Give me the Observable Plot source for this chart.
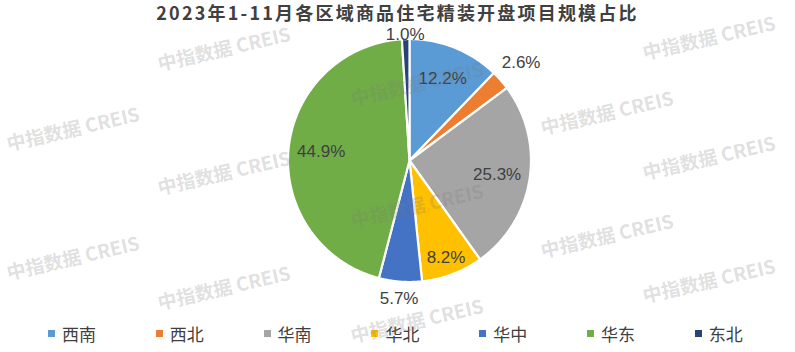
<!DOCTYPE html>
<html><head><meta charset="utf-8">
<script src="https://cdn.jsdelivr.net/npm/d3@7"></script>
<script src="https://cdn.jsdelivr.net/npm/@observablehq/plot@0.6"></script>
<style>
body{margin:0;background:#fff;}
#wrap{position:relative;width:795px;height:352px;overflow:hidden;font-family:"Noto Sans CJK SC",sans-serif;background:#fff;}
#title{position:absolute;left:0;top:0;width:795px;height:24px;text-align:center;font-weight:700;font-size:18px;letter-spacing:2.2px;line-height:25px;color:#404040;}
#chart{position:absolute;left:0;top:24px;}
#legend{position:absolute;left:48px;top:320px;height:26px;display:flex;}
.item{width:107.8px;display:flex;align-items:center;font-size:17px;color:#404040;white-space:nowrap;}
.sw{width:7px;height:7px;margin-right:7px;flex:none;}
.wm{position:absolute;white-space:nowrap;font-weight:700;font-size:19px;line-height:20px;color:rgba(120,120,120,0.24);transform:rotate(-13deg);transform-origin:0 100%;pointer-events:none;}
</style></head>
<body><div id="wrap"><div id="title"></div><div id="chart"></div><div id="legend"></div></div>
<script>
// ---- data ----
const regions = ["西南","西北","华南","华北","华中","华东","东北"];
const shares = [12.2, 2.6, 25.3, 8.2, 5.7, 44.9, 1.0];
const labels = ["12.2%","2.6%","25.3%","8.2%","5.7%","44.9%","1.0%"];
const titleText = "2023年1-11月各区域商品住宅精装开盘项目规模占比";
const watermarkText = "中指数据 CREIS";

// ---- style ----
const palette = ["#5B9BD5","#ED7D31","#A5A5A5","#FFC000","#4472C4","#70AD47","#264478"];
const W = 795, H = 296, cx = 409, cy = 136, R = 121.5;
const wmAnchors = [[9,153],[9,282],[160,73],[160,197],[160,312],[353,108],[353,230],[353,345],[543,137],[543,260],[645,62],[645,182],[645,305]];

document.getElementById("title").textContent = titleText;

// ---- pie geometry from data ----
const total = d3.sum(shares);
let acc = 0;
const slices = regions.map((r, i) => {
  const a0 = acc / total * 2 * Math.PI;
  acc += shares[i];
  const a1 = acc / total * 2 * Math.PI;
  return {region: r, share: shares[i], label: labels[i], a0, a1, mid: (a0 + a1) / 2};
});
const pts = [];
for (const s of slices) {
  pts.push({region: s.region, x: 0, y: 0});
  const n = Math.max(2, Math.ceil((s.a1 - s.a0) / (Math.PI / 360)));
  for (let k = 0; k <= n; k++) {
    const a = s.a0 + (s.a1 - s.a0) * k / n;
    pts.push({region: s.region, x: Math.sin(a), y: Math.cos(a)});
  }
  pts.push({region: s.region, x: 0, y: 0});
}
// label placement
const labelPts = slices.map(s => {
  const sn = Math.sin(s.mid), cs = Math.cos(s.mid);
  let rr;
  if (s.share >= 8) {
    rr = s.share > 10 ? 0.73 : 0.85;
  } else {
    const nd = s.label.replace(/[^0-9]/g, "").length;
    const halfW = (nd * 9.45 + 4.72 + 15.1) / 2, halfH = 7;
    rr = (R + 8 + halfW * Math.abs(sn) + halfH * Math.abs(cs)) / R;
  }
  let x = sn * rr, y = cs * rr;
  const yMax = (cy - 10) / R, yMin = -(H - cy - 10) / R;
  y = Math.max(yMin, Math.min(yMax, y));
  return {label: s.label, x, y};
});

const chart = Plot.plot({
  width: W, height: H, margin: 0,
  x: {domain: [-1, 1], range: [cx - R, cx + R], axis: null},
  y: {domain: [-1, 1], range: [cy + R, cy - R], axis: null},
  color: {domain: regions, range: palette},
  marks: [
    Plot.line(pts, {x: "x", y: "y", z: "region", fill: "region", stroke: "#fff", strokeWidth: 2.2, strokeLinejoin: "round", curve: "linear"}),
    Plot.text(labelPts, {x: "x", y: "y", text: "label", fontSize: 17, fill: "#404040", fontFamily: "Liberation Sans, Arial, sans-serif"})
  ]
});
document.getElementById("chart").appendChild(chart);

// ---- legend ----
const leg = document.getElementById("legend");
regions.forEach((r, i) => {
  const it = document.createElement("div"); it.className = "item";
  const sw = document.createElement("span"); sw.className = "sw"; sw.style.background = palette[i];
  const tx = document.createElement("span"); tx.textContent = r;
  it.appendChild(sw); it.appendChild(tx); leg.appendChild(it);
});

// ---- watermarks ----
const wrap = document.getElementById("wrap");
wmAnchors.forEach(([x, y]) => {
  const d = document.createElement("div"); d.className = "wm";
  d.textContent = watermarkText;
  d.style.left = x + "px"; d.style.top = (y - 20) + "px";
  wrap.appendChild(d);
});
</script>
</body></html>
